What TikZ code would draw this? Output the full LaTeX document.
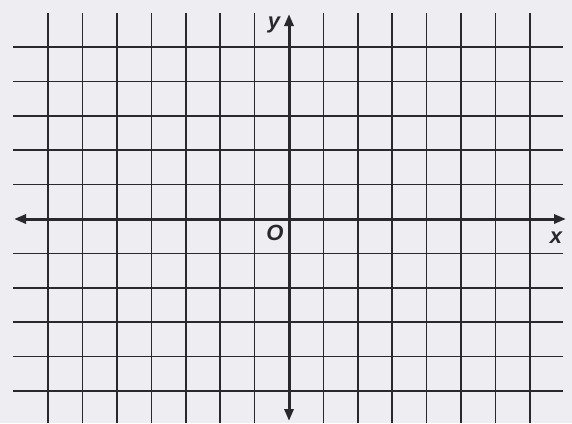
\documentclass[tikz,border=0pt]{standalone}
\usepackage{fontspec}
\setmainfont{Liberation Sans}
\usetikzlibrary{arrows.meta}
\definecolor{paper}{RGB}{238,238,242}
\definecolor{ink}{RGB}{40,40,45}
\tikzset{
  gridline/.style={draw=ink, line width=1.5pt},
  axisline/.style={draw=ink, line width=3pt, {Triangle[length=12pt,width=9pt]}-{Triangle[length=12pt,width=9pt]}},
  axislabel/.style={text=ink, font=\fontsize{22}{22}\selectfont\bfseries\itshape, inner sep=0pt}
}
\begin{document}
\begin{tikzpicture}[x=1pt,y=-1pt]
\fill[paper] (0,0) rectangle (572,423);
\useasboundingbox (0,0) rectangle (572,423);
% vertical grid lines
\foreach \k in {-7,...,-1,1,2,...,7}
  \draw[gridline] (289+\k*34.4,13) -- (289+\k*34.4,423);
% horizontal grid lines
\foreach \k in {-5,...,-1,1,2,...,5}
  \draw[gridline] (13,219+\k*34.4) -- (563,219+\k*34.4);
% axes
\coordinate (xl) at (14,219);
\coordinate (xr) at (566,219);
\coordinate (yt) at (289,14);
\coordinate (yb) at (289,421);
\draw[axisline] (xl) -- (xr);
\draw[axisline] (yb) -- (yt);
\node[axislabel] (ylab) at (274,25) {y};
\node[axislabel] (olab) at (275,233) {O};
\node[axislabel] (xlab) at (556,238) {x};
\end{tikzpicture}
\end{document}
